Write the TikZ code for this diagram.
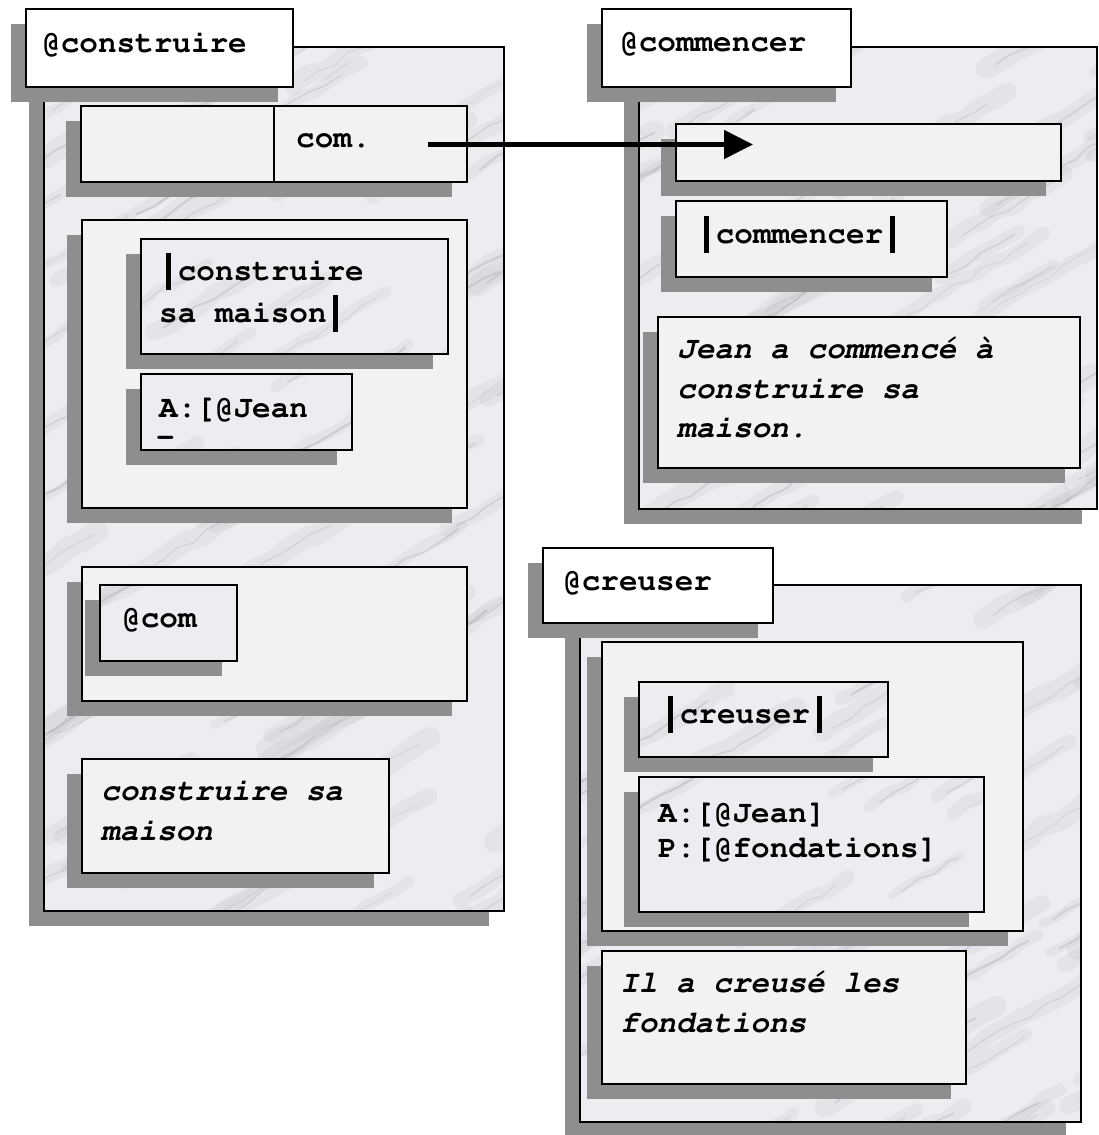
\documentclass[tikz,border=0pt]{standalone}
\usepackage[T1]{fontenc}
\usetikzlibrary{arrows.meta,fit,decorations.pathmorphing}

\definecolor{dropgray}{RGB}{142,142,142}
\definecolor{marble}{RGB}{236,237,240}
\definecolor{granite}{RGB}{242,242,242}
\definecolor{vein}{RGB}{120,122,130}

\newcommand\courbold{\fontencoding{T1}\fontfamily{pcr}\fontseries{b}\fontshape{n}\fontsize{31}{40}\selectfont}
\newcommand\courboldit{\fontencoding{T1}\fontfamily{pcr}\fontseries{b}\fontshape{sl}\fontsize{31}{40}\selectfont}
% heavy vertical bar occupying one character cell
\newcommand\heavybar{\makebox[0.6em]{\rule[-10pt]{5pt}{37pt}}}

\tikzset{
  frame/.style={draw=black, line width=2.5pt, inner sep=0pt, outer sep=0pt},
  lbl/.style={anchor=base west, inner sep=0pt, font=\courbold},
  ilbl/.style={anchor=base west, inner sep=0pt, font=\courboldit},
  softvein/.style={line cap=round, line join=round, draw=vein, decorate,
    decoration={random steps, segment length=18pt, amplitude=3pt}},
}

% grey drop shadow, shifted left and down
\newcommand\dropshadow[4]{\fill[dropgray] (#1-15,#2+15) rectangle (#3-15,#4+15);}

% random diagonal veins inside the current clip
\newcommand\veins[5]{%
  \foreach \k in {1,...,#5}{
    \pgfmathsetmacro\vx{#1-80+rnd*(#3-#1+80)}
    \pgfmathsetmacro\vy{#2+rnd*(#4-#2+80)}
    \pgfmathsetmacro\vl{50+rnd*170}
    \pgfmathsetmacro\vw{8+rnd*14}
    \draw[softvein, line width=\vw pt, opacity=0.07] (\vx,\vy) -- ++(\vl*0.85,-\vl*0.5);
    \pgfmathsetmacro\vw{0.8+rnd*1.8}
    \pgfmathsetmacro\vo{0.08+rnd*0.16}
    \draw[softvein, line width=\vw pt, opacity=\vo] (\vx+10,\vy-4) -- ++(\vl*0.7,-\vl*0.42);
  }%
}

% boxes: name, x1, y1, x2, y2 (+ number of veins for marble)
\newcommand\marblebox[6]{%
  \dropshadow{#2}{#3}{#4}{#5}
  \begin{scope}
    \clip (#2,#3) rectangle (#4,#5);
    \fill[marble] (#2,#3) rectangle (#4,#5);
    \veins{#2}{#3}{#4}{#5}{#6}
  \end{scope}
  \node[frame, fit={(#2,#3) (#4,#5)}] (#1) {};
}
\newcommand\granitebox[5]{%
  \dropshadow{#2}{#3}{#4}{#5}
  \node[frame, fill=granite, fit={(#2,#3) (#4,#5)}] (#1) {};
}
\newcommand\whitebox[5]{%
  \dropshadow{#2}{#3}{#4}{#5}
  \node[frame, fill=white, fit={(#2,#3) (#4,#5)}] (#1) {};
}

\begin{document}
\begin{tikzpicture}[x=1pt, y=-1pt]
\pgfmathsetseed{4711}
\useasboundingbox (0,0) rectangle (1099,1135);

% ---------- @construire ----------
\marblebox{bigA}{44}{47}{504}{911}{70}
\whitebox{titleA}{26}{9}{293}{87}
\node[lbl] (tA) at (42,52) {@construire};

\granitebox{comrow}{81}{106}{467}{182}
\coordinate (comsplit) at (274,0);
\draw[line width=2.5pt] (comsplit |- comrow.north) -- (comsplit |- comrow.south);
\node[lbl] (comtxt) at (296,147) {com.};

\granitebox{lexA}{82}{220}{467}{508}
\marblebox{nameA}{141}{239}{448}{354}{8}
\node[lbl] (nameA1) at (159,280) {\heavybar construire};
\node[lbl] (nameA2) at (159,322) {sa maison\heavybar};
\marblebox{argA}{141}{374}{352}{450}{5}
\node[lbl] (argA1) at (159,417) {A:[@Jean};
\node[lbl] (argA2) at (156,446) {-};

\granitebox{grpA}{82}{567}{467}{701}
\marblebox{comref}{100}{585}{237}{661}{4}
\node[lbl] (comreftxt) at (122,627) {@com};

\granitebox{senA}{82}{759}{389}{873}
\node[ilbl] (senA1) at (101,800) {construire sa};
\node[ilbl] (senA2) at (101,840) {maison};

% ---------- @commencer ----------
\marblebox{bigB}{639}{47}{1097}{509}{45}
\whitebox{titleB}{602}{9}{851}{87}
\node[lbl] (tB) at (620,51) {@commencer};

\granitebox{slotB}{676}{124}{1061}{181}
\granitebox{nameB}{676}{201}{947}{277}
\node[lbl] (nameBtxt) at (697,243) {\heavybar commencer\heavybar};

\granitebox{senB}{658}{317}{1080}{468}
\node[ilbl] (senB1) at (677,358) {Jean a commencé à};
\node[ilbl] (senB2) at (677,398) {construire sa};
\node[ilbl] (senB3) at (677,437) {maison.};

% ---------- @creuser ----------
\marblebox{bigC}{580}{585}{1081}{1122}{50}
\whitebox{titleC}{543}{548}{773}{623}
\node[lbl] (tC) at (563,590) {@creuser};

\granitebox{lexC}{602}{642}{1023}{931}
\marblebox{nameC}{639}{682}{888}{757}{6}
\node[lbl] (nameCtxt) at (661,723) {\heavybar creuser\heavybar};
\marblebox{argC}{639}{777}{984}{912}{10}
\node[lbl] (argC1) at (658,822) {A:[@Jean]};
\node[lbl] (argC2) at (658,857) {P:[@fondations]};

\granitebox{senC}{602}{951}{966}{1084}
\node[ilbl] (senC1) at (620,992) {Il a creusé les};
\node[ilbl] (senC2) at (620,1032) {fondations};

% ---------- link com. -> @commencer ----------
\coordinate (linkfrom) at (428,144.5);
\coordinate (linkto) at (753,144.5);
\draw[line width=5pt, -{Triangle[length=29pt,width=28pt]}] (linkfrom) -- (linkto);
\end{tikzpicture}
\end{document}
